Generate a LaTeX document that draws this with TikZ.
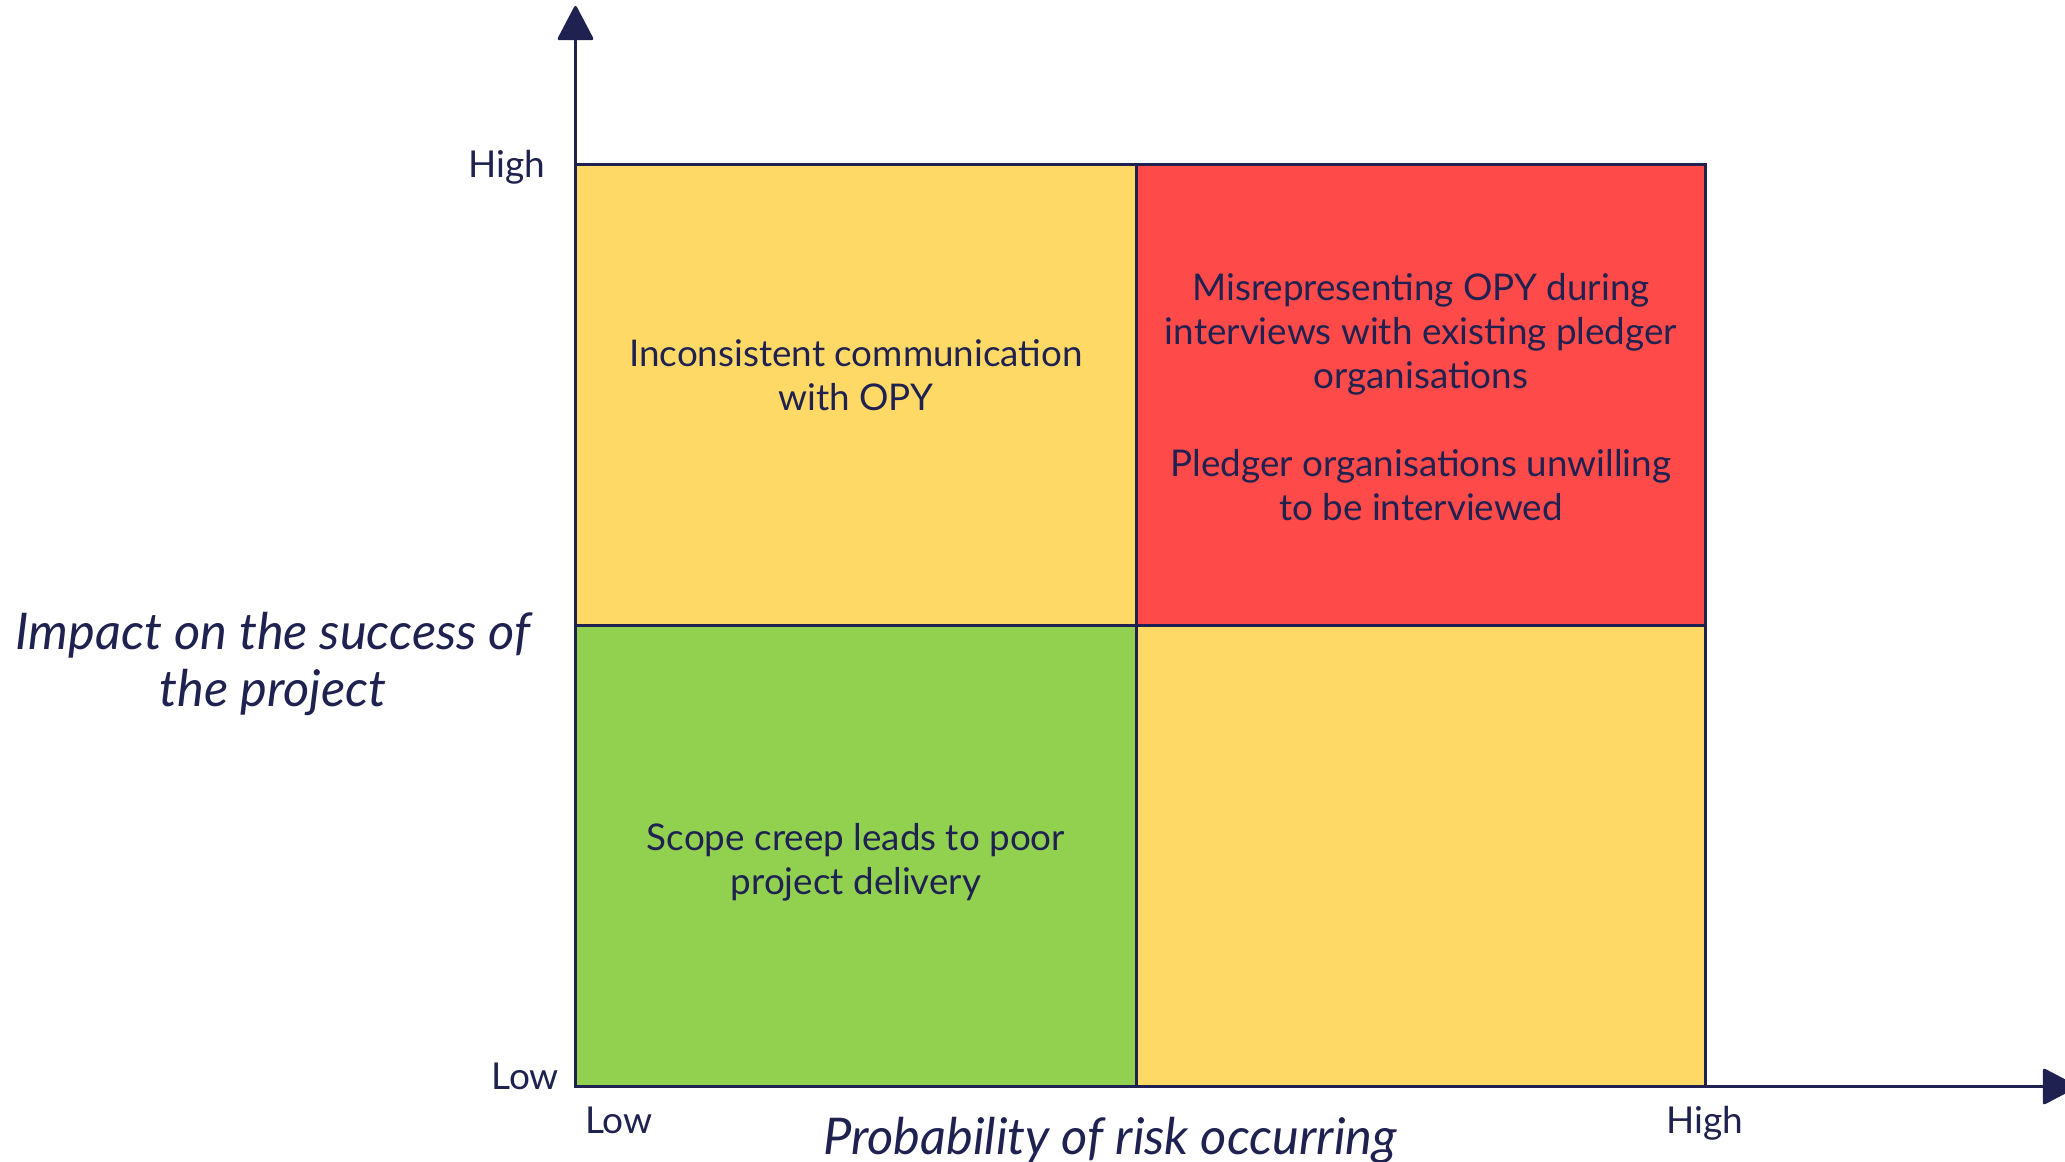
\documentclass[tikz,border=0pt]{standalone}
\usepackage{fontspec}
\setmainfont{Lato}
\usetikzlibrary{arrows.meta}
\definecolor{ink}{HTML}{1F2250}
\definecolor{amber}{HTML}{FFD966}
\definecolor{alarm}{HTML}{FF4A4A}
\definecolor{safe}{HTML}{92D050}
\begin{document}
\begin{tikzpicture}[x=0.5pt,y=-0.5pt,
  cellline/.style={draw=ink,line width=1.5pt},
  axis/.style={draw=ink,line width=1.5pt,-{Triangle[length=18pt,width=18.5pt,round]}},
  risk/.style={text=ink,align=center,font=\fontsize{18.4}{22}\selectfont},
  tick/.style={text=ink,font=\fontsize{18.5}{22}\selectfont},
  title/.style={text=ink,align=center,font=\fontsize{25.3}{28.5}\selectfont\itshape}]
\clip (0,0) rectangle (2065,1161);
\fill[white] (0,0) rectangle (2065,1161);
% quadrants
\fill[amber] (575.5,164.6) rectangle (1136.5,625.5);
\fill[alarm] (1136.5,164.6) rectangle (1705.5,625.5);
\fill[safe]  (575.5,625.5) rectangle (1136.5,1086.5);
\fill[amber] (1136.5,625.5) rectangle (1705.5,1086.5);
\draw[cellline] (575.5,164.6) rectangle (1705.5,1086.5);
\draw[cellline] (1136.5,164.6) -- (1136.5,1086.5);
\draw[cellline] (575.5,625.5) -- (1705.5,625.5);
% axes
\coordinate (O) at (575.5,1086.5);
\coordinate (ytip) at (575.5,6);
\coordinate (xtip) at (2077,1086.5);
\draw[axis] (O) -- (ytip);
\draw[axis] (O) -- (xtip);
% tick labels
\node[tick,anchor=east] (yhigh) at (552,167) {High};
\node[tick,anchor=east] (ylow) at (566,1076) {Low};
\node[tick,anchor=west] (xlow) at (578,1120) {Low};
\node[tick] (xhigh) at (1705,1123) {High};
% axis titles
\node[title] (ytitle) at (273,664) {Impact on the success of\\the project};
\node[title] (xtitle) at (1110,1140) {Probability of risk occurring};
% risks
\node[risk] (r1) at (856,375.5) {Inconsistent communication\\with OPY};
\node[risk] (r2) at (1421,397) {Misrepresenting OPY during\\interviews with existing pledger\\organisations\\[22pt]Pledger organisations unwilling\\to be interviewed};
\node[risk] (r3) at (856,862) {Scope creep leads to poor\\project delivery};
\end{tikzpicture}
\end{document}
